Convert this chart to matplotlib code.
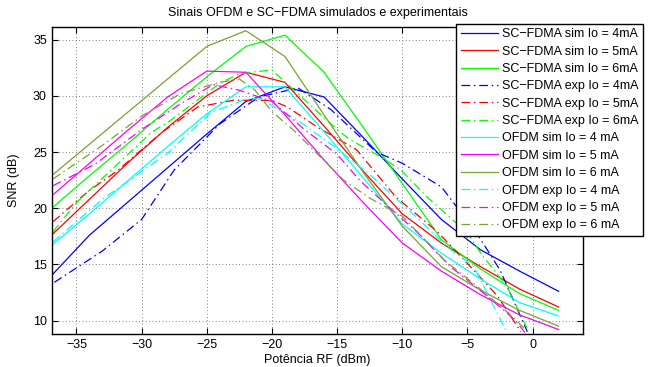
import matplotlib
matplotlib.use("Agg")
import matplotlib.pyplot as plt

plt.rcParams['font.family'] = ['Liberation Sans', 'DejaVu Sans']

# ---- data ----
x_sim = [-37, -34, -31, -28, -25, -22, -19, -16, -13, -10, -7, -4, -1, 2]
sc_sim_4 = [13.9, 17.6, 20.6, 23.6, 26.6, 29.5, 30.8, 29.9, 26.3, 22.6, 19.0, 16.3, 14.4, 12.6]
sc_sim_5 = [17.5, 20.8, 24.1, 27.2, 30.0, 32.1, 31.2, 27.3, 23.3, 19.5, 16.9, 14.8, 12.8, 11.2]
sc_sim_6 = [19.9, 22.9, 25.8, 28.8, 31.7, 34.4, 35.4, 32.1, 27.2, 22.2, 17.2, 14.6, 12.4, 10.9]
of_sim_4 = [16.6, 19.5, 22.5, 25.5, 28.4, 30.8, 30.8, 26.8, 22.7, 18.6, 16.0, 13.7, 11.6, 10.4]
of_sim_5 = [21.0, 24.0, 27.0, 29.9, 32.2, 32.1, 28.3, 24.3, 20.5, 16.9, 14.4, 12.3, 10.5, 9.2]
of_sim_6 = [22.8, 25.7, 28.6, 31.5, 34.4, 35.8, 33.5, 28.3, 23.2, 18.4, 14.8, 12.7, 10.9, 9.5]

x_sc_exp_4 = [-36.7, -33, -30, -27.5, -24, -21, -18, -15.5, -12, -10, -7, -4.3, -2.5, -0.4]
sc_exp_4 = [13.4, 16.2, 19.0, 23.4, 27.5, 29.9, 30.7, 28.8, 25.0, 24.0, 21.9, 17.8, 14.5, 9.0]
x_sc_exp_5 = [-36.8, -34.1, -31.9, -28.5, -25.7, -23, -20, -18.8, -16.5, -13.5, -10.5, -7.3, -5.5, -2.7, -0.9]
sc_exp_5 = [18.8, 21.5, 23.3, 26.7, 29.0, 29.6, 29.6, 29.0, 27.2, 25.2, 21.0, 17.9, 15.7, 12.2, 9.0]
x_sc_exp_6 = [-36.8, -35, -29.3, -27.8, -23.9, -22.4, -20, -15, -14, -11.7, -10.1, -8.1, -5, -3.8, -2, -0.3]
sc_exp_6 = [17.9, 20.5, 26.7, 27.8, 31.2, 32.0, 32.3, 27.0, 26.1, 24.6, 23.4, 21.0, 17.8, 15.7, 13.1, 9.0]
x_of_exp_4 = [-36.8, -33, -28, -24.7, -22, -21, -18, -15, -12.5, -9, -6.5, -4.5, -2.0]
of_exp_4 = [17.0, 20.8, 24.9, 28.5, 29.7, 29.8, 27.8, 25.3, 23.0, 19.3, 16.5, 14.8, 9.0]
x_of_exp_5 = [-36.8, -33.6, -30, -27, -24.5, -22.5, -20, -17.5, -15, -13.2, -11.4, -8.8, -6.3, -3.5, -1.3, -0.5]
of_exp_5 = [22.0, 23.9, 27.0, 29.3, 31.0, 30.5, 29.5, 27.0, 24.8, 22.4, 20.5, 17.8, 14.8, 12.2, 10.0, 8.8]
x_of_exp_6 = [-36.8, -33, -30, -27, -24, -22.5, -21.3, -20, -18.3, -14.5, -12.5, -10, -6.8, -4, -1.5, -0.2]
of_exp_6 = [22.6, 25.6, 28.2, 30.2, 31.2, 31.5, 30.5, 28.6, 26.9, 22.5, 20.9, 19.3, 15.4, 12.8, 10.3, 8.8]

labels = ["SC\u2212FDMA sim Io = 4mA", "SC\u2212FDMA sim Io = 5mA", "SC\u2212FDMA sim Io = 6mA",
          "SC\u2212FDMA exp Io = 4mA", "SC\u2212FDMA exp Io = 5mA", "SC\u2212FDMA exp Io = 6mA",
          "OFDM sim Io = 4 mA", "OFDM sim Io = 5 mA", "OFDM sim Io = 6 mA",
          "OFDM exp Io = 4 mA", "OFDM exp Io = 5 mA", "OFDM exp Io = 6 mA"]

blue = (0, 0, 1)
red = (1, 0, 0)
green = (0, 1, 0)
cyan = (0, 1, 1)
magenta = (1, 0, 1)
olive = (0.47, 0.64, 0.19)

fig = plt.figure(figsize=(6.48, 3.67), dpi=100)
ax = fig.add_axes([0.0798, 0.0899, 0.9003 - 0.0798, 0.9256 - 0.0899])

lw = 0.9
dd = (0, (7, 3, 1.2, 3))
series = [
    (x_sim, sc_sim_4, blue, '-'),
    (x_sim, sc_sim_5, red, '-'),
    (x_sim, sc_sim_6, green, '-'),
    (x_sc_exp_4, sc_exp_4, blue, dd),
    (x_sc_exp_5, sc_exp_5, red, dd),
    (x_sc_exp_6, sc_exp_6, green, dd),
    (x_sim, of_sim_4, cyan, '-'),
    (x_sim, of_sim_5, magenta, '-'),
    (x_sim, of_sim_6, olive, '-'),
    (x_of_exp_4, of_exp_4, cyan, dd),
    (x_of_exp_5, of_exp_5, magenta, dd),
    (x_of_exp_6, of_exp_6, olive, dd),
]
for (xs, ys, c, ls), lab in zip(series, labels):
    ax.plot(xs, ys, color=c, linestyle=ls, linewidth=lw, label=lab)

fs = 9
ax.set_xlim(-36.9, 3.9)
ax.set_ylim(8.8, 36.1)
ax.set_xticks([-35, -30, -25, -20, -15, -10, -5, 0])
ax.set_yticks([10, 15, 20, 25, 30, 35])
ax.tick_params(direction='in', top=True, right=True, labelsize=fs, length=4, width=0.8)
ax.grid(True, linestyle=(0, (1, 3)), color='0.35', linewidth=0.6)
for s in ax.spines.values():
    s.set_linewidth(1.0)

ax.set_title("Sinais OFDM e SC\u2212FDMA simulados e experimentais", fontsize=fs, pad=8)
ax.set_xlabel("Potência RF (dBm)", fontsize=fs, labelpad=2)
ax.set_ylabel("SNR (dB)", fontsize=fs, labelpad=9)

leg = fig.legend(loc='upper left', bbox_to_anchor=(0.704, 0.935), fontsize=fs,
                 handlelength=3.0, handletextpad=0.3, labelspacing=0.43,
                 borderpad=0.35, borderaxespad=0, fancybox=False, framealpha=1)
leg.get_frame().set_edgecolor('k')
leg.get_frame().set_linewidth(1.0)

fig.savefig("out.png", dpi=100)
